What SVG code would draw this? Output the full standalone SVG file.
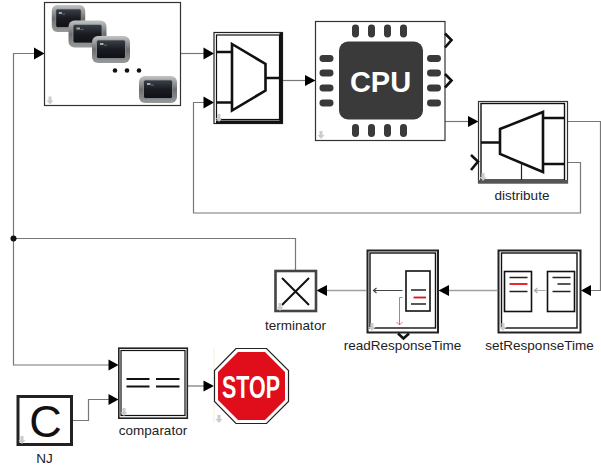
<svg xmlns="http://www.w3.org/2000/svg" width="601" height="466" viewBox="0 0 601 466">
<defs>
<style>
.c{fill:none;stroke:#777;stroke-width:1.2}
.l{fill:none;stroke:#a0a0a0;stroke-width:1.6}
.k{fill:none;stroke:#111;stroke-width:2.6}
.a{fill:#000;stroke:none}
.o{fill:none;stroke:#111;stroke-width:2.6}
.t{font-family:"Liberation Sans",Arial,sans-serif;font-size:13.5px;fill:#222;text-anchor:middle}
.d{fill:#ccc;stroke:none}
.p{fill:#3a3a3a;stroke:none}
.f{fill:#fff;stroke:#111;stroke-width:1.6}
.s{stroke:#222;stroke-width:1.6;fill:none}
.r{stroke:#e1111b;stroke-width:1.8;fill:none}
.g{fill:#fff;stroke:#8a8a8a;stroke-width:1}
.v{fill:none;stroke:#111;stroke-width:2.2}
</style>
<linearGradient id="fr" x1="0" y1="0" x2="0" y2="1"><stop offset="0" stop-color="#c4c4c4"/><stop offset=".5" stop-color="#6e6e6e"/><stop offset="1" stop-color="#9a9a9a"/></linearGradient>
<linearGradient id="sc" x1="0" y1="0" x2="0" y2="1"><stop offset="0" stop-color="#3b4048"/><stop offset=".5" stop-color="#1a1c22"/><stop offset="1" stop-color="#101116"/></linearGradient>
<path id="dn" d="M-1.500-4H1.500V0H3.500L0 4-3.500 0H-1.500Z"/>
<g id="term"><rect x="-19" y="-13.500" width="38" height="27" rx="6" fill="url(#fr)"/><rect x="-14.500" y="-9.500" width="29" height="18.500" rx="2" fill="url(#sc)" stroke="#8fa0a8" stroke-width=".7"/><rect x="-11" y="-6.500" width="3.500" height="2" fill="#aaa"/><rect x="-7" y="-4.800" width="3" height=".8" fill="#777"/></g>
</defs>
<rect width="601" height="466" fill="#fff"/>

<g id="connectors">
<path class="c" d="M34 53.500H13.500V365H109"/>
<path class="c" d="M13.500 238.500H295.500V270"/>
<path class="c" d="M181 53.500H204"/>
<path class="c" d="M204 102.500H193.500V213H580.500V162.500H567"/>
<path class="c" d="M283 80.500H305"/>
<path class="c" d="M445 121.500H468"/>
<path class="c" d="M568 121.500H600.500V290.500H590"/>
<path class="l" d="M497 290.500H448"/>
<path class="l" d="M366 290.500H326"/>
<path class="c" d="M73 420.500H88.500V399.500H109"/>
<path class="c" d="M188 386H204"/>
<circle cx="13.500" cy="238.500" r="3" fill="#111"/>
<path class="a" d="M34 47.500 44.500 53.500 34 59.500Z"/>
<path class="a" d="M203.500 47.500 214 53.500 203.500 59.500Z"/>
<path class="a" d="M203.500 96.500 214 102.500 203.500 108.500Z"/>
<path class="a" d="M305 75 315.500 80.500 305 86Z"/>
<path class="a" d="M468 116 478.500 121.500 468 127Z"/>
<path class="a" d="M591 285 581 290.500 591 296Z"/>
<path class="a" d="M449 285 438.500 290.500 449 296Z"/>
<path class="a" d="M327 285 316.500 290.500 327 296Z"/>
<path class="a" d="M108.500 359.500 118.500 365 108.500 370.500Z"/>
<path class="a" d="M108.500 394 118.500 399.500 108.500 405Z"/>
<path class="a" d="M203.500 380.500 214 386 203.500 391.500Z"/>
</g>

<g id="block-terminals">
<rect x="44.500" y="2.500" width="136" height="103" fill="#fff" stroke="#333" stroke-width="1.200"/>
<use href="#term" transform="translate(68.500 18.500) scale(.88 1)"/>
<use href="#term" x="87.500" y="34"/>
<use href="#term" x="111" y="49.500"/>
<use href="#term" x="158" y="89.500"/>
<circle cx="115" cy="70.500" r="2.300" fill="#111"/><circle cx="127" cy="70.500" r="2.300" fill="#111"/><circle cx="139" cy="70.500" r="2.300" fill="#111"/>
<use href="#dn" x="50" y="100.500" class="d"/>
</g>

<g id="block-mux">
<rect x="214" y="32.500" width="68.500" height="91" fill="#fff" stroke="#222" stroke-width="1.200"/>
<rect x="216.500" y="35" width="63" height="84.500" fill="none" stroke="#111" stroke-width="1.200"/>
<path d="M279.500 33H282.500V123.500H216V120.500H279.500Z" fill="#111"/>
<path class="k" d="M232 44 265.500 64V90.500L232 110.500Z"/>
<path class="k" d="M217 52H232M217 102.500H232M265.500 78H279"/>
<use href="#dn" x="219" y="118" class="d"/>
</g>

<g id="block-cpu">
<rect x="315.500" y="21.500" width="129.500" height="119" fill="#fff" stroke="#333" stroke-width="1.200"/>
<rect class="p" x="339" y="41.500" width="84" height="78" rx="9"/>
<text x="380.500" y="92" font-family="'Liberation Sans',Arial,sans-serif" font-size="29" font-weight="700" fill="#fff" text-anchor="middle">CPU</text>
<g class="p">
<rect x="352" y="24.500" width="7" height="13" rx="3.400"/><rect x="368" y="24.500" width="7" height="13" rx="3.400"/><rect x="384" y="24.500" width="7" height="13" rx="3.400"/><rect x="400" y="24.500" width="7" height="13" rx="3.400"/>
<rect x="352" y="124" width="7" height="13" rx="3.400"/><rect x="368" y="124" width="7" height="13" rx="3.400"/><rect x="384" y="124" width="7" height="13" rx="3.400"/><rect x="400" y="124" width="7" height="13" rx="3.400"/>
<rect x="319.500" y="55" width="14" height="7" rx="3.400"/><rect x="319.500" y="69.500" width="14" height="7" rx="3.400"/><rect x="319.500" y="84.500" width="14" height="7" rx="3.400"/><rect x="319.500" y="99.500" width="14" height="7" rx="3.400"/>
<rect x="427" y="55" width="14" height="7" rx="3.400"/><rect x="427" y="69.500" width="14" height="7" rx="3.400"/><rect x="427" y="84.500" width="14" height="7" rx="3.400"/><rect x="427" y="99.500" width="14" height="7" rx="3.400"/>
</g>
<path class="o" d="M445 33.500 451.500 40 445 47.500M445 74 451.500 80.500 445 87.500"/>
<use href="#dn" x="321" y="135" class="d"/>
</g>

<g id="block-distribute">
<rect x="478.500" y="101.500" width="89" height="81.500" fill="#fff" stroke="#333" stroke-width="1.200"/>
<rect x="481" y="103.500" width="83.500" height="76.500" fill="none" stroke="#111" stroke-width="1.400"/>
<path d="M478 180H568V183H478Z" fill="#555"/>
<path class="k" d="M543 112V172L500 154V129Z"/>
<path class="k" d="M481 142.500H500M543 118H564M543 164H564"/>
<path d="M521.500 163V180" fill="none" stroke="#222" stroke-width="1.200"/>
<path class="o" d="M471 155 478 161.500 471 170"/>
<use href="#dn" x="483" y="177" class="d"/>
<text class="t" x="522" y="200">distribute</text>
</g>

<g id="block-setResponseTime">
<rect x="498.500" y="250.500" width="82" height="82" fill="#fff" stroke="#222" stroke-width="2"/>
<rect x="501.500" y="253" width="75.500" height="75" fill="none" stroke="#111" stroke-width="1.400"/>
<rect class="f" x="504.500" y="271.500" width="27" height="40"/>
<rect class="f" x="547.500" y="271.500" width="27" height="40"/>
<path class="s" d="M509.500 277.500H527.500M509.500 291.500H527.500M552.500 277.500H570.500M557.500 284H570.500M552.500 291.500H570.500"/>
<path class="r" d="M509.500 284H527.500"/>
<path fill="none" stroke="#aaa" stroke-width="1.200" d="M534.500 290.500H545.500M537.500 288 534.500 290.500 537.500 293"/>
<use href="#dn" x="503" y="327" class="d"/>
<text class="t" x="539.500" y="350">setResponseTime</text>
</g>

<g id="block-readResponseTime">
<rect x="367.500" y="250.500" width="70.500" height="82" fill="#fff" stroke="#222" stroke-width="2"/>
<rect x="370" y="253" width="65.500" height="75" fill="none" stroke="#111" stroke-width="1.400"/>
<rect class="f" x="406" y="271" width="24" height="40"/>
<path class="s" d="M411 290H426M411 304H426"/>
<path class="r" d="M413.500 297.500H426"/>
<path fill="none" stroke="#444" stroke-width="1.200" d="M373.500 290.500H402.500M376.500 288 373.500 290.500 376.500 293"/>
<path fill="none" stroke="#e55" stroke-width=".9" d="M402.500 297.500H399.500V325M396.500 322 399.500 325 402.500 322"/>
<path class="o" d="M398 333.500 403.500 338.500 409 333.500"/>
<use href="#dn" x="372" y="327" class="d"/>
<text class="t" x="402.500" y="350">readResponseTime</text>
</g>

<g id="block-terminator">
<rect x="275.500" y="271" width="40.500" height="40" fill="#fff" stroke="#444" stroke-width="2.600"/>
<path fill="none" stroke="#111" stroke-width="2" d="M282 278 309 305M309 278 282 305"/>
<use href="#dn" x="280" y="307" class="d"/>
<text class="t" x="295.500" y="330">terminator</text>
</g>

<g id="block-comparator">
<rect x="118.800" y="348.200" width="68.500" height="70" fill="#fff" stroke="#222" stroke-width="1.600"/>
<rect x="121" y="350.500" width="64" height="65" fill="none" stroke="#111" stroke-width="1.200"/>
<path stroke="#111" stroke-width="2" d="M126.500 379H149.500M156 379H179.500M126.500 386.500H149.500M156 386.500H179.500"/>
<use href="#dn" x="124" y="412" class="d"/>
<text class="t" x="153" y="435">comparator</text>
</g>

<g id="block-stop">
<path d="M214 348V423" stroke="#f5efd8" stroke-width="1"/>
<path d="M236 348.500H266.500L288.500 370.500V401.500L266.500 423.500H236L214.500 401.500V370.500Z" fill="#fff" stroke="#222" stroke-width="1.200"/>
<path d="M238 352H265L285 372V400L265 420H238L218 400V372Z" fill="#e00d1a"/>
<text x="251" y="397.500" font-family="'Liberation Sans',Arial,sans-serif" font-size="32" font-weight="700" fill="#fff" text-anchor="middle" textLength="58" lengthAdjust="spacingAndGlyphs">STOP</text>
<use href="#dn" x="219" y="419" class="d"/>
</g>

<g id="block-NJ">
<rect x="18" y="396.500" width="53.500" height="48" fill="#fff" stroke="#222" stroke-width="3"/>
<text x="45.500" y="436.500" font-family="'Liberation Sans',Arial,sans-serif" font-size="45" fill="#111" text-anchor="middle">C</text>
<use href="#dn" x="22" y="440" class="d"/>
<text class="t" x="44.500" y="463">NJ</text>
</g>
</svg>
